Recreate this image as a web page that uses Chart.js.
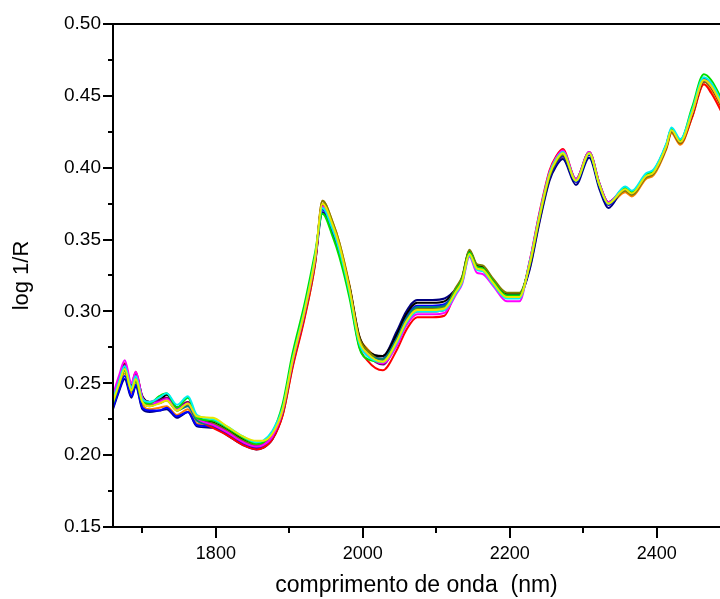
<!DOCTYPE html>
<html>
<head>
<meta charset="utf-8">
<title>log 1/R</title>
<script src="https://cdn.jsdelivr.net/npm/chart.js@4.4.1/dist/chart.umd.min.js"></script>
<style>
  html, body { margin: 0; padding: 0; background: #fff; }
  #wrap { width: 720px; height: 599px; position: relative; }
</style>
</head>
<body>
<div id="wrap"><canvas id="spectra"></canvas></div>
<script>
// wavelength grid (nm)
const wavelengths = [
  1660, 1668, 1676, 1685, 1691, 1700, 1710, 1723, 1733, 1747, 1762, 1774,
  1796, 1815, 1837, 1855, 1864, 1877,
  1891, 1904, 1921, 1935,
  1945, 1959, 1968,
  1982, 1995, 2006,
  2027,
  2046, 2059, 2074, 2095, 2111,
  2127, 2135, 2145, 2155, 2163, 2177, 2196, 2213,
  2227, 2240, 2254, 2263, 2272,
  2290, 2308, 2322, 2334,
  2357, 2366, 2385, 2396, 2413, 2420, 2432,
  2448, 2464, 2474, 2490
];

// log 1/R for each sample
const sampleYellow = [
  .237, .249, .260, .245, .253, .237, .234, .236, .238, .231, .236, .227,
  .226, .220, .213, .210, .210, .215,
  .232, .265, .301, .337,
  .375, .360, .346,
  .315, .280, .271,
  .265,
  .279, .293, .301, .301, .302,
  .314, .321, .340, .330, .329, .320, .310, .310,
  .333, .365, .395, .405, .410,
  .391, .410, .388, .375,
  .385, .382, .394, .397, .415, .426, .418,
  .438, .461, .457, .442
];
const sampleCyan = [
  .239, .251, .262, .247, .255, .239, .237, .240, .243, .235, .241, .228,
  .225, .220, .213, .209, .210, .217,
  .233, .266, .302, .338,
  .372, .357, .343,
  .313, .278, .269,
  .265,
  .278, .292, .300, .300, .301,
  .313, .320, .339, .329, .328, .319, .309, .309,
  .334, .366, .396, .406, .411,
  .391, .410, .388, .375,
  .387, .384, .396, .399, .417, .428, .420,
  .440, .463, .459, .444
];
const sampleGreen = [
  .236, .249, .259, .245, .252, .237, .236, .241, .243, .233, .240, .226,
  .224, .219, .212, .208, .209, .216,
  .236, .270, .306, .341,
  .368, .352, .338,
  .309, .275, .267,
  .265,
  .279, .292, .301, .301, .302,
  .315, .322, .341, .331, .330, .321, .311, .311,
  .333, .365, .395, .405, .410,
  .391, .410, .388, .375,
  .386, .383, .395, .398, .416, .427, .419,
  .442, .465, .461, .446
];
const sampleMagenta = [
  .242, .255, .266, .250, .258, .240, .236, .237, .239, .232, .236, .226,
  .221, .216, .209, .206, .207, .213,
  .231, .264, .300, .336,
  .373, .358, .344,
  .314, .279, .270,
  .264,
  .276, .290, .298, .298, .299,
  .312, .319, .338, .327, .326, .318, .307, .307,
  .335, .367, .397, .407, .412,
  .392, .411, .389, .376,
  .386, .383, .395, .398, .416, .427, .419,
  .438, .461, .457, .442
];
const samplePurple = [
  .240, .252, .263, .248, .256, .240, .237, .238, .240, .233, .237, .227,
  .221, .216, .209, .206, .207, .213,
  .231, .264, .300, .336,
  .374, .359, .345,
  .314, .279, .270,
  .263,
  .278, .292, .300, .300, .301,
  .314, .321, .340, .330, .329, .320, .310, .310,
  .334, .366, .396, .406, .411,
  .392, .411, .389, .376,
  .385, .382, .394, .397, .415, .426, .418,
  .438, .461, .457, .442
];
const sampleDarkCyan = [
  .237, .249, .259, .245, .252, .237, .234, .237, .239, .231, .234, .224,
  .221, .216, .209, .206, .207, .213,
  .232, .265, .301, .337,
  .372, .357, .343,
  .314, .279, .270,
  .267,
  .281, .295, .303, .303, .304,
  .315, .322, .341, .331, .330, .321, .311, .311,
  .333, .365, .395, .405, .410,
  .391, .410, .388, .375,
  .385, .382, .394, .397, .415, .426, .418,
  .439, .462, .458, .443
];
const sampleOlive = [
  .238, .250, .261, .246, .254, .238, .235, .236, .238, .231, .235, .225,
  .222, .217, .210, .207, .208, .214,
  .230, .263, .299, .335,
  .377, .362, .348,
  .317, .282, .273,
  .266,
  .280, .294, .302, .302, .303,
  .317, .324, .343, .333, .332, .323, .313, .313,
  .332, .364, .394, .404, .409,
  .391, .410, .388, .375,
  .384, .381, .393, .396, .414, .425, .417,
  .437, .460, .456, .441
];
const sampleBlack = [
  .240, .252, .263, .248, .256, .241, .237, .238, .242, .233, .236, .227,
  .223, .218, .211, .208, .208, .215,
  .231, .264, .300, .336,
  .374, .359, .345,
  .317, .283, .273,
  .269,
  .284, .298, .306, .306, .307,
  .316, .323, .342, .332, .331, .322, .312, .312,
  .332, .364, .394, .404, .409,
  .391, .410, .388, .375,
  .385, .382, .394, .397, .415, .426, .418,
  .437, .460, .456, .441
];
const sampleRed = [
  .241, .253, .264, .249, .258, .240, .237, .239, .240, .233, .237, .226,
  .219, .214, .207, .204, .205, .211,
  .228, .260, .296, .333,
  .375, .360, .346,
  .312, .276, .266,
  .259,
  .273, .287, .296, .296, .297,
  .315, .322, .341, .331, .329, .320, .310, .310,
  .335, .368, .398, .408, .413,
  .392, .411, .389, .376,
  .385, .382, .394, .397, .414, .425, .417,
  .435, .458, .452, .437
];
const sampleBlue = [
  .233, .245, .255, .241, .249, .233, .231, .231, .233, .227, .230, .221,
  .220, .215, .208, .205, .206, .212,
  .231, .264, .300, .336,
  .371, .356, .342,
  .315, .280, .271,
  .267,
  .282, .296, .304, .304, .305,
  .315, .322, .341, .331, .330, .321, .311, .311,
  .331, .363, .393, .403, .408,
  .390, .409, .387, .374,
  .385, .382, .394, .397, .415, .426, .418,
  .439, .462, .458, .443
];
const sampleNavy = [
  .232, .244, .253, .240, .248, .232, .230, .231, .232, .226, .230, .220,
  .219, .214, .207, .204, .205, .211,
  .229, .262, .298, .334,
  .369, .354, .340,
  .316, .281, .272,
  .269,
  .286, .300, .308, .308, .309,
  .316, .323, .342, .332, .331, .322, .312, .312,
  .329, .361, .391, .401, .406,
  .388, .407, .385, .372,
  .386, .383, .395, .398, .416, .427, .419,
  .439, .462, .458, .443
];
const sampleOrange = [
  .235, .247, .257, .243, .251, .235, .232, .233, .234, .228, .232, .222,
  .221, .216, .209, .206, .207, .213,
  .228, .261, .297, .333,
  .377, .362, .348,
  .318, .283, .274,
  .267,
  .280, .294, .302, .302, .303,
  .316, .323, .342, .332, .331, .322, .312, .312,
  .330, .362, .392, .402, .407,
  .390, .409, .387, .374,
  .383, .380, .392, .395, .413, .424, .416,
  .435, .458, .454, .439
];

const samples = [
  sampleYellow, sampleCyan, sampleGreen, sampleMagenta, samplePurple, sampleDarkCyan,
  sampleOlive, sampleBlack, sampleRed, sampleBlue, sampleNavy, sampleOrange
];
const sampleColors = [
  '#e8e800', '#00f0f0', '#00e000', '#ff00ff', '#800080', '#008080',
  '#808000', '#000000', '#ff0000', '#0000ff', '#000080', '#ff8000'
];

// axis ticks
const xMajorTicks = [1800, 2000, 2200, 2400];
const xMinorTicks = [1700, 1900, 2100, 2300];
const yMajorTicks = [0.15, 0.20, 0.25, 0.30, 0.35, 0.40, 0.45, 0.50];
const yMinorTicks = [0.175, 0.225, 0.275, 0.325, 0.375, 0.425, 0.475];

const FONT = '"Liberation Sans", Arial, sans-serif';

const datasets = samples.map((vals, k) => ({
  label: 'amostra ' + (k + 1),
  data: wavelengths.map((w, i) => ({ x: w, y: vals[i] })),
  borderColor: sampleColors[k],
  borderWidth: 2,
  pointRadius: 0,
  cubicInterpolationMode: 'monotone',
  fill: false
}));

// frame lines and tick marks drawn in the old Origin style
const frameTicks = {
  id: 'frameTicks',
  afterDraw(chart) {
    const { ctx, chartArea: a, scales } = chart;
    const xs = scales.x, ys = scales.y;
    ctx.save();
    ctx.strokeStyle = '#000';
    ctx.lineWidth = 2;
    ctx.beginPath();
    ctx.moveTo(a.left, a.top); ctx.lineTo(a.right + 2, a.top);
    ctx.moveTo(a.left, a.top - 1); ctx.lineTo(a.left, a.bottom + 1);
    ctx.moveTo(a.left - 1, a.bottom); ctx.lineTo(a.right + 2, a.bottom);
    xMajorTicks.forEach(v => {
      const px = Math.round(xs.getPixelForValue(v));
      ctx.moveTo(px, a.bottom); ctx.lineTo(px, a.bottom + 11);
    });
    xMinorTicks.forEach(v => {
      const px = Math.round(xs.getPixelForValue(v));
      ctx.moveTo(px, a.bottom); ctx.lineTo(px, a.bottom + 6);
    });
    yMajorTicks.forEach(v => {
      const py = Math.round(ys.getPixelForValue(v));
      ctx.moveTo(a.left, py); ctx.lineTo(a.left - 10, py);
    });
    yMinorTicks.forEach(v => {
      const py = Math.round(ys.getPixelForValue(v));
      ctx.moveTo(a.left, py); ctx.lineTo(a.left - 5, py);
    });
    ctx.stroke();
    ctx.restore();
  }
};

new Chart(document.getElementById('spectra'), {
  type: 'line',
  data: { datasets },
  plugins: [frameTicks],
  options: {
    responsive: true,
    maintainAspectRatio: false,
    animation: false,
    devicePixelRatio: 1,
    layout: { padding: { top: 24, right: 0, left: 0, bottom: 0 } },
    plugins: {
      legend: { display: false },
      tooltip: { enabled: false }
    },
    scales: {
      x: {
        type: 'linear',
        min: 1660,
        max: 2486,
        grid: { display: false },
        border: { display: false },
        afterBuildTicks(scale) {
          scale.ticks = xMajorTicks.map(v => ({ value: v }));
        },
        afterFit(scale) { scale.height = 72; },
        ticks: {
          padding: 8,
          color: '#000',
          font: { family: FONT, size: 18 },
          callback: v => String(v)
        },
        title: {
          display: true,
          text: 'comprimento de onda  (nm)',
          color: '#000',
          font: { family: FONT, size: 23 },
          padding: { top: 0, bottom: 0 }
        }
      },
      y: {
        min: 0.15,
        max: 0.50,
        grid: { display: false },
        border: { display: false },
        afterBuildTicks(scale) {
          scale.ticks = yMajorTicks.map(v => ({ value: v }));
        },
        afterFit(scale) { scale.width = 113; },
        ticks: {
          padding: 4,
          color: '#000',
          font: { family: FONT, size: 19 },
          callback: v => v.toFixed(2)
        },
        title: {
          display: true,
          text: 'log 1/R',
          color: '#000',
          font: { family: FONT, size: 22 },
          padding: { top: 9, bottom: 0 }
        }
      }
    }
  }
});
</script>
</body>
</html>
